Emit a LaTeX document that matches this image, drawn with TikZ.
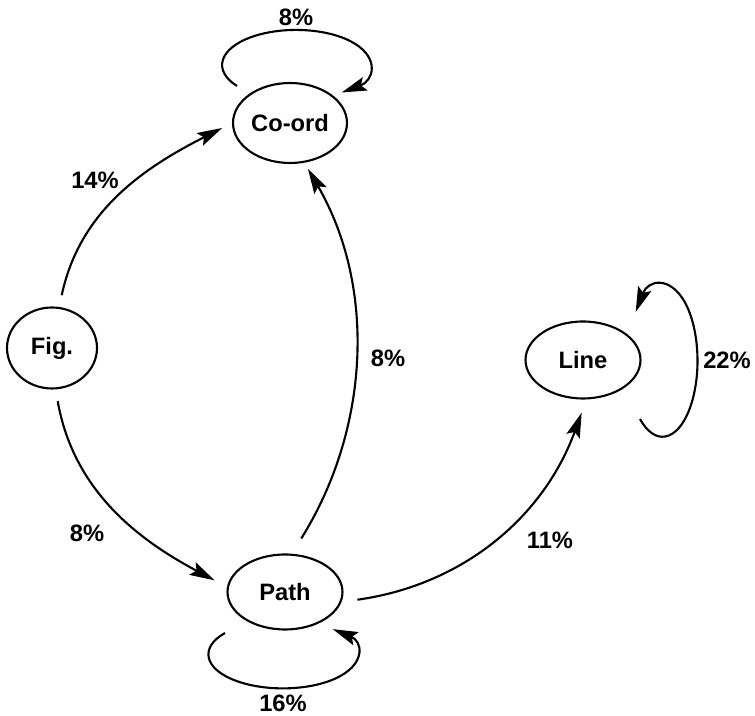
\documentclass[tikz,border=0pt]{standalone}
\usepackage{fontspec}
\setmainfont{Liberation Sans}
\usetikzlibrary{shapes.geometric,arrows.meta,calc}
\begin{document}
\begin{tikzpicture}[x=0.02cm,y=0.02cm,
    state/.style={draw,ellipse,line width=1.2pt,inner sep=0pt,font=\fontsize{13.5}{15}\selectfont\bfseries},
    pct/.style={font=\fontsize{13.5}{15}\selectfont\bfseries,inner sep=1pt},
    trans/.style={line width=1.2pt,-{Stealth[length=0.5cm,width=0.28cm,inset=0.09cm]}}]
    \useasboundingbox (0,0) rectangle (755,716);
    \node[state,minimum width=2.28cm,minimum height=1.6cm] (coord) at (290,593) {Co-ord};
    \node[state,minimum width=1.8cm,minimum height=1.62cm] (fig) at (52,368) {Fig.};
    \node[state,minimum width=2.3cm,minimum height=1.5cm] (path) at (285,124) {Path};
    \node[state,minimum width=2.3cm,minimum height=1.54cm] (line) at (583,356) {Line};
    \draw[trans,shorten <=0.24cm,shorten >=0.22cm] (fig.80) to[out=78,in=207] (coord.180);
    \draw[trans,shorten <=0.24cm,shorten >=0.28cm] (fig.-85) to[out=-80,in=152] (path.175);
    \draw[trans,shorten <=0.36cm,shorten >=0.14cm,looseness=0.95] (path.80) to[out=58,in=-60] (coord.-70);
    \draw[trans,shorten <=0.32cm,shorten >=0.28cm] (path.-10) to[out=8,in=250] (line.-85);
    \draw[trans] ($(coord)+(-53,37)$) arc[start angle=217,end angle=-52,x radius=74,y radius=35];
    \draw[trans] ($(path)+(-60,-41)$) arc[start angle=141,end angle=408,x radius=74.5,y radius=34];
    \draw[trans] ($(line)+(57,-59)$) arc[start angle=230,end angle=500,x radius=35,y radius=76];
    \node[pct] (pcoord) at (296,699) {8\%};
    \node[pct] (pfigcoord) at (95,536) {14\%};
    \node[pct] (pfigpath) at (87,183) {8\%};
    \node[pct] (ppathcoord) at (388,358) {8\%};
    \node[pct] (ppathline) at (550,176) {11\%};
    \node[pct] (pline) at (727,356) {22\%};
    \node[pct] (ppath) at (283,13) {16\%};
\end{tikzpicture}
\end{document}
